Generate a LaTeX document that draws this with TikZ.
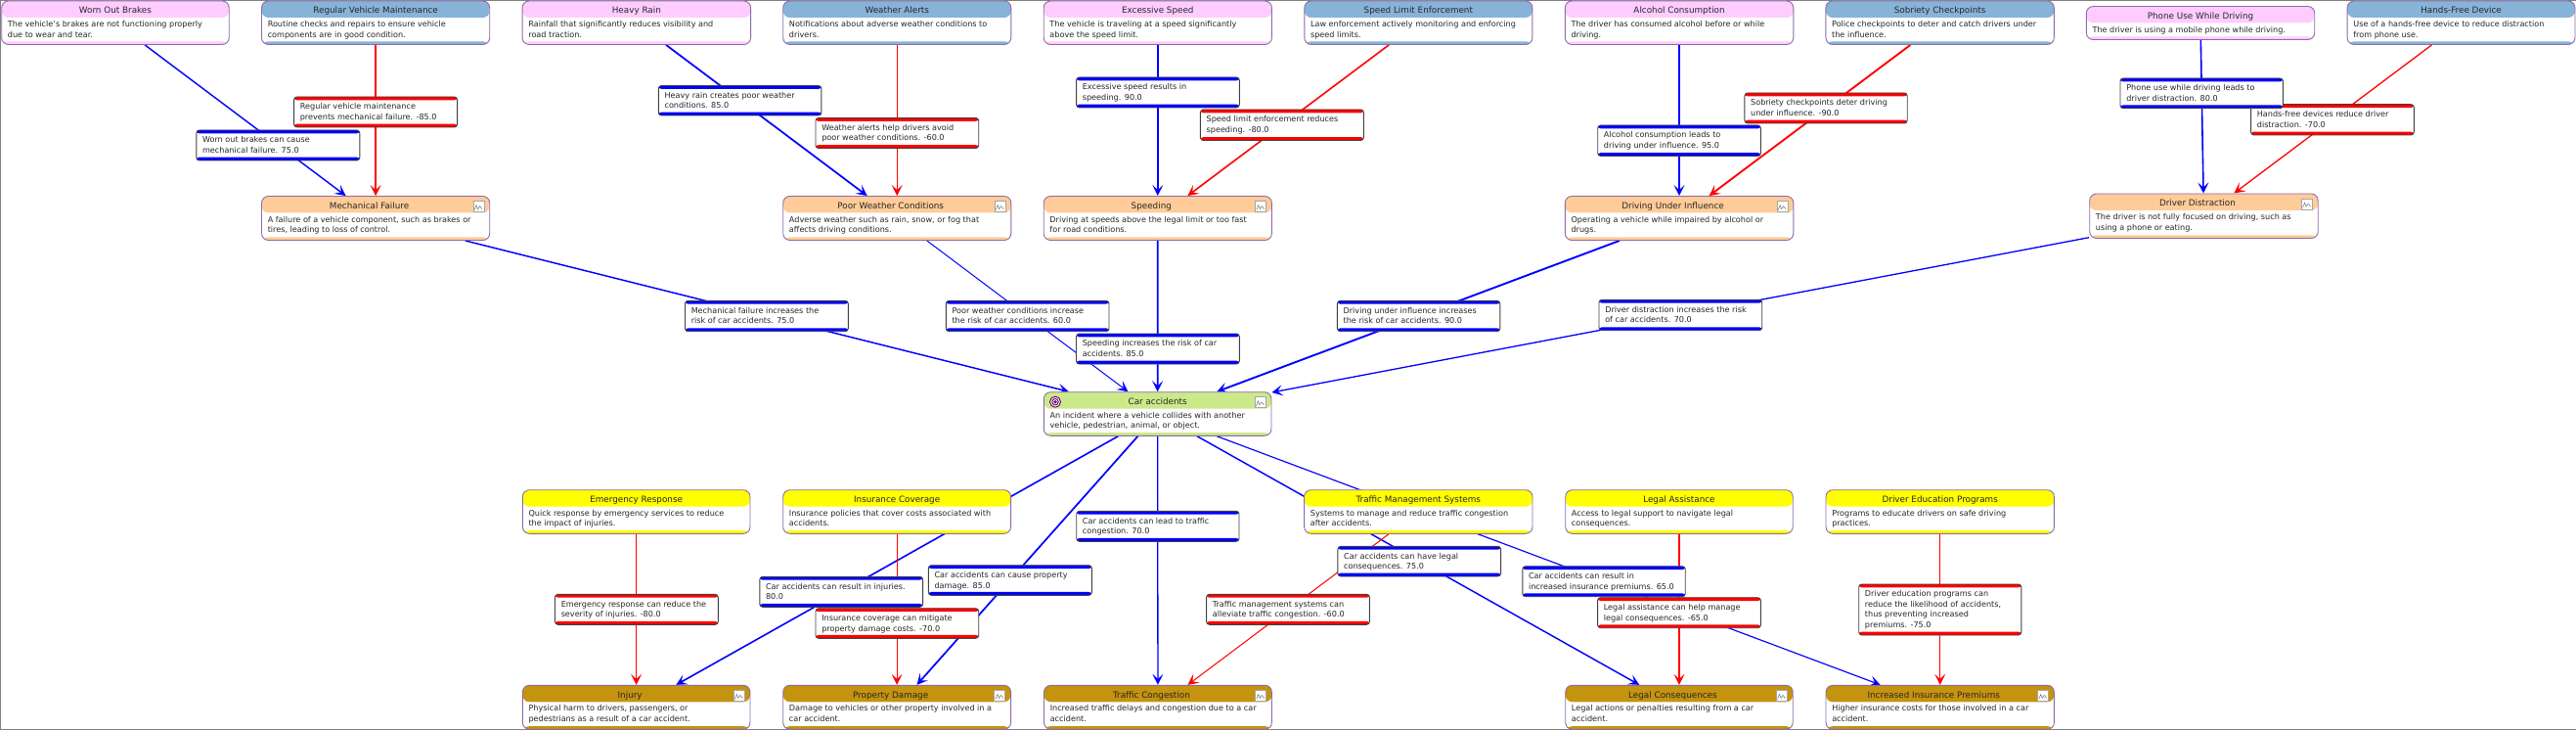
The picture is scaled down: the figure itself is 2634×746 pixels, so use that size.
\documentclass[tikz,border=0pt]{standalone}
\usepackage{fontspec}
\setmainfont{DejaVu Sans}
\usetikzlibrary{fit,backgrounds,arrows.meta}
\definecolor{causecol}{HTML}{FFCCFF}
\definecolor{remedycol}{HTML}{88B3D9}
\definecolor{midcol}{HTML}{FFCC99}
\definecolor{topcol}{HTML}{CCE98A}
\definecolor{effectcol}{HTML}{C4930F}
\definecolor{mitigatecol}{HTML}{FFFF00}
\definecolor{edgecol}{HTML}{8C6BA8}
\tikzset{
  txtfont/.style={font=\fontsize{8.1}{10.5}\selectfont,text=black!85,inner sep=0pt},
  ttlfont/.style={font=\fontsize{8.8}{10.5}\selectfont,text=black!85,inner sep=0pt,text height=6.6pt,text depth=1.9pt},
  varshape/.style={draw=edgecol,line width=0.9pt,rounded corners=7pt,inner sep=0pt,fill=white,
    path picture={
      \fill[#1] (path picture bounding box.north west) rectangle ([yshift=-17pt]path picture bounding box.north east);
      \fill[#1] ([yshift=3.2pt]path picture bounding box.south west) rectangle (path picture bounding box.south east);}},
  linkshape/.style={draw=black!75,line width=0.9pt,rounded corners=3pt,inner sep=0pt,fill=white,
    path picture={
      \fill[#1] (path picture bounding box.north west) rectangle ([yshift=-3.4pt]path picture bounding box.north east);
      \fill[#1] ([yshift=3.4pt]path picture bounding box.south west) rectangle (path picture bounding box.south east);}},
  sparkbox/.style={draw=black!35,fill=white,line width=0.6pt,minimum size=11pt,inner sep=0pt},
  targetring/.style={circle,draw=violet!75!black,fill=white,line width=0.9pt,inner sep=0pt},
  posline/.style={draw=blue,line width={(#1)*0.03pt-0.8pt}},
  negline/.style={draw=red,line width={(#1)*0.03pt-0.8pt}},
}
% name, colour, box corners, title, text
\newcommand{\varbox}[9][0]{%
  \node[varshape=#3,fit={(#4,#5)(#6,#7)}] (#2) {};
  \node[ttlfont,xshift=#1pt] (#2title) at ([yshift=-11pt]#2.north) {#8};
  \node[txtfont,align=left,anchor=north west] (#2text) at ([xshift=6.5pt,yshift=-20.6pt]#2.north west) {#9};
}
% name, colour, box corners, text
\newcommand{\linkbox}[7]{%
  \node[linkshape=#2,fit={(#3,#4)(#5,#6)}] (#1) {};
  \node[txtfont,align=left,anchor=north west] (#1text) at ([xshift=6.5pt,yshift=-7pt]#1.north west) {#7};
}
\newcommand{\spark}[1]{%
  \node[sparkbox,anchor=north east] (#1spark) at ([xshift=-6pt,yshift=-5pt]#1.north east) {};
  \draw[black!55,line width=0.5pt] ([xshift=1.5pt,yshift=2pt]#1spark.south west) -- ++(2pt,5pt) -- ++(1.5pt,-4pt) -- ++(2pt,3pt) -- ++(2.5pt,-3pt);
}
\begin{document}
\begin{tikzpicture}[x=1pt,y=-1pt,>={Stealth[length=11pt,width=11pt,inset=5pt]}]
  \useasboundingbox (0,0) rectangle (2634,746);
  \draw[black!50,line width=1pt] (2634,0.5) -- (0.5,0.5) -- (0.5,745.5) -- (2634,745.5);
  % causes and remedies
  \varbox{wob}{causecol}{1.7}{1}{234.2}{45.5}{Worn Out Brakes}{The vehicle's brakes are not functioning properly\\due to wear and tear.}
  \varbox{rvm}{remedycol}{267.5}{1}{500.7}{45.5}{Regular Vehicle Maintenance}{Routine checks and repairs to ensure vehicle\\components are in good condition.}
  \varbox{hr}{causecol}{534.1}{1}{767.6}{45.5}{Heavy Rain}{Rainfall that significantly reduces visibility and\\road traction.}
  \varbox{wa}{remedycol}{800.7}{1}{1033.8}{45.5}{Weather Alerts}{Notifications about adverse weather conditions to\\drivers.}
  \varbox{es}{causecol}{1067.2}{1}{1300.4}{45.5}{Excessive Speed}{The vehicle is traveling at a speed significantly\\above the speed limit.}
  \varbox{sle}{remedycol}{1333.8}{1}{1566.9}{45.5}{Speed Limit Enforcement}{Law enforcement actively monitoring and enforcing\\speed limits.}
  \varbox{ac}{causecol}{1600.3}{1}{1833.8}{45.5}{Alcohol Consumption}{The driver has consumed alcohol before or while\\driving.}
  \varbox{sc}{remedycol}{1866.9}{1}{2100.3}{45.5}{Sobriety Checkpoints}{Police checkpoints to deter and catch drivers under\\the influence.}
  \varbox{pu}{causecol}{2133.3}{6.5}{2366.7}{40.5}{Phone Use While Driving}{The driver is using a mobile phone while driving.}
  \varbox{hf}{remedycol}{2400.1}{1}{2633}{45.5}{Hands-Free Device}{Use of a hands-free device to reduce distraction\\from phone use.}
  % middle row
  \varbox[-6.5]{mf}{midcol}{267.5}{200.5}{500.7}{245.5}{Mechanical Failure}{A failure of a vehicle component, such as brakes or\\tires, leading to loss of control.}
  \varbox[-6.5]{pwc}{midcol}{800.7}{200.5}{1033.8}{245.5}{Poor Weather Conditions}{Adverse weather such as rain, snow, or fog that\\affects driving conditions.}
  \varbox[-6.5]{sp}{midcol}{1067.2}{200.5}{1300.4}{245.5}{Speeding}{Driving at speeds above the legal limit or too fast\\for road conditions.}
  \varbox[-6.5]{dui}{midcol}{1600.3}{200.5}{1833.8}{245.5}{Driving Under Influence}{Operating a vehicle while impaired by alcohol or\\drugs.}
  \varbox[-6.5]{dd}{midcol}{2136.7}{198}{2370.2}{243.5}{Driver Distraction}{The driver is not fully focused on driving, such as\\using a phone or eating.}
  \foreach \n in {mf,pwc,sp,dui,dd} {\spark{\n}}
  % top event
  \varbox{car}{topcol}{1067.3}{400.7}{1300}{445.3}{Car accidents}{An incident where a vehicle collides with another\\vehicle, pedestrian, animal, or object.}
  \spark{car}
  \foreach \s in {11,6.5,2.5} {\node[targetring,minimum size=\s pt] (cartarget\s) at (1079,410.7) {};}
  % mitigations
  \varbox{er}{mitigatecol}{534.3}{500.7}{767}{545.3}{Emergency Response}{Quick response by emergency services to reduce\\the impact of injuries.}
  \varbox{ic}{mitigatecol}{800.7}{500.7}{1033.6}{545.3}{Insurance Coverage}{Insurance policies that cover costs associated with\\accidents.}
  \varbox{tms}{mitigatecol}{1333.6}{500.7}{1567}{545.3}{Traffic Management Systems}{Systems to manage and reduce traffic congestion\\after accidents.}
  \varbox{la}{mitigatecol}{1600.7}{500.7}{1833.2}{545.3}{Legal Assistance}{Access to legal support to navigate legal\\consequences.}
  \varbox{dep}{mitigatecol}{1867}{500.7}{2100.4}{545.3}{Driver Education Programs}{Programs to educate drivers on safe driving\\practices.}
  % consequences
  \varbox[-6.5]{inj}{effectcol}{534.3}{700.3}{767}{745.3}{Injury}{Physical harm to drivers, passengers, or\\pedestrians as a result of a car accident.}
  \varbox[-6.5]{pd}{effectcol}{800.7}{700.3}{1033.6}{745.3}{Property Damage}{Damage to vehicles or other property involved in a\\car accident.}
  \varbox[-6.5]{tc}{effectcol}{1067.5}{700.3}{1300.4}{745.3}{Traffic Congestion}{Increased traffic delays and congestion due to a car\\accident.}
  \varbox[-6.5]{lc}{effectcol}{1600.7}{700.3}{1833.2}{745.3}{Legal Consequences}{Legal actions or penalties resulting from a car\\accident.}
  \varbox[-6.5]{iip}{effectcol}{1867}{700.3}{2100.4}{745.3}{Increased Insurance Premiums}{Higher insurance costs for those involved in a car\\accident.}
  \foreach \n in {inj,pd,tc,lc,iip} {\spark{\n}}
  % link boxes
  \linkbox{lwob}{blue}{200.8}{133}{367.8}{164}{Worn out brakes can cause\\mechanical failure. 75.0}
  \linkbox{lrvm}{red}{300.6}{99}{467.6}{130}{Regular vehicle maintenance\\prevents mechanical failure. -85.0}
  \linkbox{lhr}{blue}{673.3}{87.5}{839.9}{118}{Heavy rain creates poor weather\\conditions. 85.0}
  \linkbox{lwa}{red}{834}{120.5}{1000.7}{151.5}{Weather alerts help drivers avoid\\poor weather conditions. -60.0}
  \linkbox{les}{blue}{1100.6}{79}{1267.3}{110}{Excessive speed results in\\speeding. 90.0}
  \linkbox{lsle}{red}{1227.4}{112}{1394.4}{143.5}{Speed limit enforcement reduces\\speeding. -80.0}
  \linkbox{lac}{blue}{1633.7}{128}{1800.4}{159.5}{Alcohol consumption leads to\\driving under influence. 95.0}
  \linkbox{lsc}{red}{1783.9}{95}{1950.2}{126}{Sobriety checkpoints deter driving\\under influence. -90.0}
  \linkbox{lhf}{red}{2301.6}{106.7}{2468.3}{138}{Hands-free devices reduce driver\\distraction. -70.0}
  \linkbox{lpu}{blue}{2168}{80}{2334.4}{110.7}{Phone use while driving leads to\\driver distraction. 80.0}
  \linkbox{lmf}{blue}{700.5}{307.3}{867.3}{338.7}{Mechanical failure increases the\\risk of car accidents. 75.0}
  \linkbox{lpwc}{blue}{967.3}{307.3}{1134}{338.7}{Poor weather conditions increase\\the risk of car accidents. 60.0}
  \linkbox{lsp}{blue}{1100.5}{341}{1267.3}{372}{Speeding increases the risk of car\\accidents. 85.0}
  \linkbox{ldui}{blue}{1367.4}{307.3}{1533.8}{338.7}{Driving under influence increases\\the risk of car accidents. 90.0}
  \linkbox{ldd}{blue}{1635}{306.3}{1801.7}{337.7}{Driver distraction increases the risk\\of car accidents. 70.0}
  \linkbox{ltc}{blue}{1100.7}{522.3}{1267}{553.3}{Car accidents can lead to traffic\\congestion. 70.0}
  \linkbox{lpd}{blue}{949.3}{577.7}{1116.4}{608.3}{Car accidents can cause property\\damage. 85.0}
  \linkbox{linj}{blue}{776.8}{589.3}{943.6}{620.3}{Car accidents can result in injuries.\\80.0}
  \linkbox{lic}{red}{834}{621.7}{1000.7}{652.3}{Insurance coverage can mitigate\\property damage costs. -70.0}
  \linkbox{ler}{red}{567.5}{607.3}{734.3}{638.3}{Emergency response can reduce the\\severity of injuries. -80.0}
  \linkbox{llc}{blue}{1367.9}{558.3}{1534.6}{589}{Car accidents can have legal\\consequences. 75.0}
  \linkbox{ltms}{red}{1233.6}{607.3}{1400.4}{638.3}{Traffic management systems can\\alleviate traffic congestion. -60.0}
  \linkbox{liip}{blue}{1556.8}{578.7}{1723.2}{609.7}{Car accidents can result in\\increased insurance premiums. 65.0}
  \linkbox{lla}{red}{1633.6}{610.7}{1800.4}{641.7}{Legal assistance can help manage\\legal consequences. -65.0}
  \linkbox{ldep}{red}{1900.7}{597}{2066.8}{649}{Driver education programs can\\reduce the likelihood of accidents,\\thus preventing increased\\premiums. -75.0}
  % connectors, under everything
  \begin{scope}[on background layer]
    \foreach \a/\b/\v in {wob/mf/75,hr/pwc/85,es/sp/90,ac/dui/95,pu/dd/80,
      mf/car/75,pwc/car/60,sp/car/85,dui/car/90,dd/car/70,
      car/inj/80,car/pd/85,car/tc/70,car/lc/75,car/iip/65}
      \draw[posline=\v,->] (\a) -- (\b);
    \foreach \a/\b/\v in {rvm/mf/85,wa/pwc/60,sle/sp/80,sc/dui/90,hf/dd/70,
      er/inj/80,ic/pd/70,tms/tc/60,la/lc/65,dep/iip/75}
      \draw[negline=\v,->] (\a) -- (\b);
  \end{scope}
\end{tikzpicture}
\end{document}
